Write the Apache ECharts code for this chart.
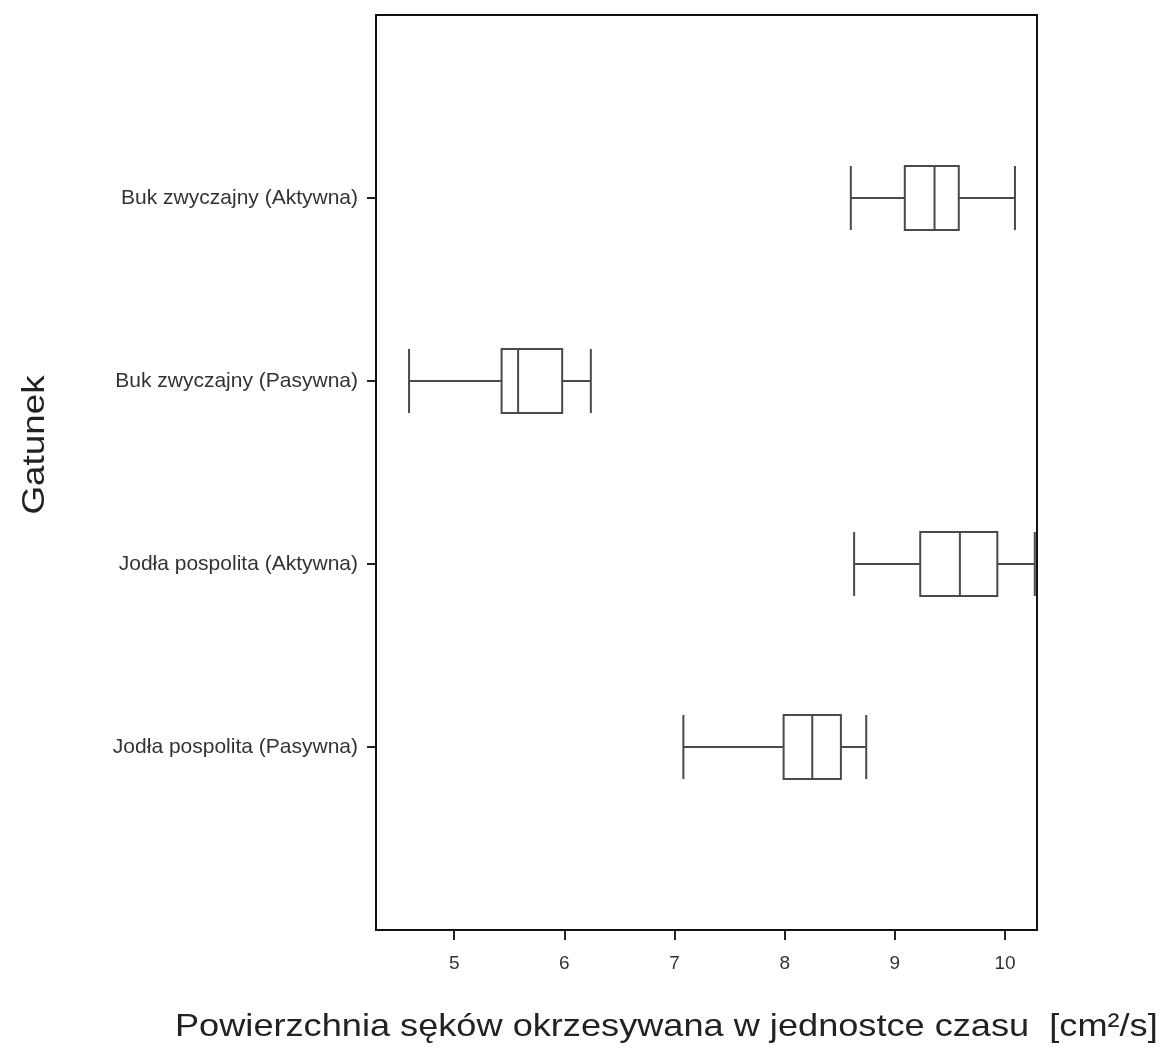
<!DOCTYPE html>
<html>
<head>
<meta charset="utf-8">
<script src="https://cdn.jsdelivr.net/npm/echarts@6/dist/echarts.min.js"></script>
<style>
html,body{margin:0;padding:0;background:#fff;}
#chart{width:1171px;height:1048px;}
</style>
</head>
<body>
<div id="chart"></div>
<script>
// Categories, top to bottom
const categories = [
  'Buk zwyczajny (Aktywna)',
  'Buk zwyczajny (Pasywna)',
  'Jodła pospolita (Aktywna)',
  'Jodła pospolita (Pasywna)'
];
// [min, Q1, median, Q3, max]
const bukAktywna   = [8.60, 9.09, 9.36, 9.58, 10.09];
const bukPasywna   = [4.59, 5.43, 5.58, 5.98, 6.24];
const jodlaAktywna = [8.63, 9.23, 9.59, 9.93, 10.27];
const jodlaPasywna = [7.08, 7.99, 8.25, 8.51, 8.74];
const xTicks = [5, 6, 7, 8, 9, 10];
const xTitle = 'Powierzchnia sęków okrzesywana w jednostce czasu  [cm²/s]';
const yTitle = 'Gatunek';

const boxes = [bukAktywna, bukPasywna, jodlaAktywna, jodlaPasywna];
const axisCats = [''].concat(categories, ['']);
const boxData = ['-'].concat(boxes, ['-']);

const chart = echarts.init(document.getElementById('chart'), null, {renderer: 'canvas'});
const FONT = 'Liberation Sans';
chart.setOption({
  animation: false,
  backgroundColor: '#ffffff',
  grid: {
    left: 376, right: 134, top: 15, bottom: 118,
    show: true, borderColor: '#111', borderWidth: 2, backgroundColor: 'transparent'
  },
  xAxis: {
    type: 'value',
    min: 4.29, max: 10.29,
    axisLine: {show: true, lineStyle: {color: '#111', width: 2}},
    axisTick: {show: true, length: 10, customValues: xTicks, lineStyle: {color: '#222', width: 2}},
    axisLabel: {customValues: xTicks, margin: 24, fontSize: 19, color: '#333', fontFamily: FONT},
    splitLine: {show: false}
  },
  yAxis: {
    type: 'category',
    data: axisCats,
    inverse: true,
    boundaryGap: false,
    axisLine: {show: true, lineStyle: {color: '#111', width: 2}},
    axisTick: {
      show: true, length: 9,
      interval: function (idx, val) { return val !== ''; },
      lineStyle: {color: '#222', width: 2}
    },
    axisLabel: {interval: 0, margin: 18, fontSize: 21, color: '#333', fontFamily: FONT},
    splitLine: {show: false}
  },
  series: [{
    type: 'boxplot',
    data: boxData,
    boxWidth: [64, 64],
    itemStyle: {color: '#fff', borderColor: '#4a4a4a', borderWidth: 2},
    emphasis: {disabled: true}
  }],
  graphic: [
    {
      type: 'text', x: 175, y: 1027, scaleX: 1.13,
      style: {text: xTitle, fontSize: 32, fontFamily: FONT, fill: '#222',
              textAlign: 'left', textVerticalAlign: 'middle'}
    },
    {
      type: 'text', x: 35, y: 445, rotation: Math.PI / 2, scaleX: 1.15,
      style: {text: yTitle, fontSize: 32, fontFamily: FONT, fill: '#222',
              textAlign: 'center', textVerticalAlign: 'middle'}
    }
  ]
});
</script>
</body>
</html>
